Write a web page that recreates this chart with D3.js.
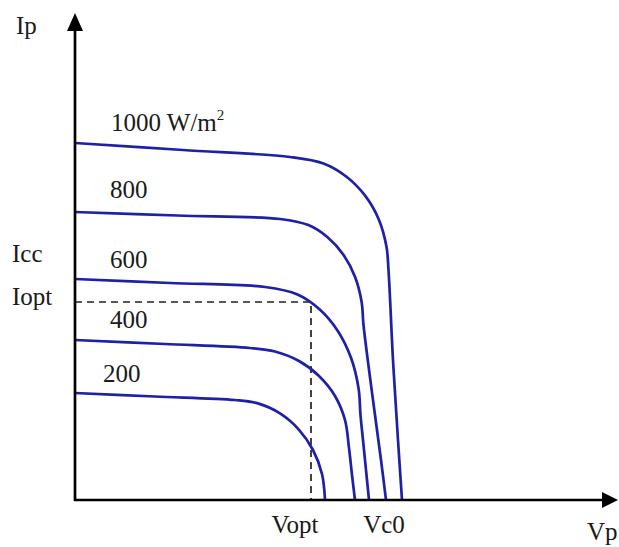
<!DOCTYPE html>
<html>
<head>
<meta charset="utf-8">
<script src="https://cdn.jsdelivr.net/npm/d3@7"></script>
<style>
  html, body { margin: 0; padding: 0; background: #fff; }
  svg { display: block; }
  text { font-family: "Liberation Serif", "Times New Roman", serif; fill: #1a1a1a; }
</style>
</head>
<body>
<svg id="chart" width="619" height="547"></svg>
<script>
// ---- data (arbitrary V / I units) ----
const irradianceLabels = ["1000", "800", "600", "400", "200"];

const v1000 = [0, 10.8, 21.5, 24.85, 27.12, 29.01, 30.38, 31.15, 31.35, 31.8, 32.3, 32.7];
const i1000 = [35.7, 35.0, 34.3, 33.65, 32.35, 30.44, 28.06, 25.32, 23.0, 14.0, 6.0, 0];

const v800 = [0, 10.25, 20.5, 23.34, 25.26, 26.86, 28.02, 28.67, 28.85, 29.8, 30.6, 31.1];
const i800 = [28.8, 28.45, 28.1, 27.49, 26.27, 24.49, 22.27, 19.75, 17.5, 10.0, 4.0, 0];

const v600 = [0, 9.5, 19.0, 22.25, 24.45, 26.28, 27.61, 28.36, 28.55, 28.85, 29.4];
const i600 = [22.1, 21.7, 21.3, 20.56, 19.08, 16.91, 14.2, 11.14, 8.5, 5.5, 0];

const v400 = [0, 9.0, 17.5, 20.0, 22.4, 24.4, 26.0, 27.0, 27.4, 27.7, 28.0];
const i400 = [16.0, 15.6, 15.2, 14.85, 13.9, 12.4, 10.4, 8.0, 5.2, 2.5, 0];

const v200 = [0, 8.0, 16.0, 18.3, 20.5, 22.36, 23.8, 24.7, 25.0];
const i200 = [10.7, 10.35, 10.0, 9.66, 8.66, 7.07, 5.0, 2.6, 0];

const vOpt = 23.6;
const iOpt = 19.8;

const axisMaxV = 54.3;
const axisMaxI = 48.7;

// ---- drawing ----
const svg = d3.select("#chart");
const x = d3.scaleLinear().domain([0, axisMaxV]).range([75, 618]);
const y = d3.scaleLinear().domain([0, axisMaxI]).range([500, 13]);

const blue = "#1f1fa8";
const series = [
  { v: v1000, i: i1000 },
  { v: v800, i: i800 },
  { v: v600, i: i600 },
  { v: v400, i: i400 },
  { v: v200, i: i200 }
];

const line = d3.line()
  .x(d => x(d[0]))
  .y(d => y(d[1]))
  .curve(d3.curveCatmullRom.alpha(0.5));

// dashed optimum lines
svg.append("path")
  .attr("d", `M${x(0)},${y(iOpt)}H${x(vOpt)}V${y(0)}`)
  .attr("fill", "none")
  .attr("stroke", "#222")
  .attr("stroke-width", 1.7)
  .attr("stroke-dasharray", "7,5");

// curves
series.forEach(s => {
  svg.append("path")
    .datum(s.v.map((v, k) => [v, s.i[k]]))
    .attr("d", line)
    .attr("fill", "none")
    .attr("stroke", blue)
    .attr("stroke-width", 2.7)
    .attr("stroke-linejoin", "round");
});

// axes with arrows
const axisG = svg.append("g");
axisG.append("line")
  .attr("x1", x(0)).attr("y1", y(0) + 1)
  .attr("x2", x(0)).attr("y2", y(axisMaxI) + 14)
  .attr("stroke", "#000").attr("stroke-width", 2.7);
axisG.append("line")
  .attr("x1", x(0) - 1).attr("y1", y(0))
  .attr("x2", x(axisMaxV) - 12).attr("y2", y(0))
  .attr("stroke", "#000").attr("stroke-width", 2.7);
axisG.append("path")
  .attr("d", `M${x(0)},${y(axisMaxI)}L${x(0) - 8},${y(axisMaxI) + 18}L${x(0) + 8},${y(axisMaxI) + 18}Z`)
  .attr("fill", "#000");
axisG.append("path")
  .attr("d", `M${x(axisMaxV)},${y(0)}L${x(axisMaxV) - 16},${y(0) - 8}L${x(axisMaxV) - 16},${y(0) + 8}Z`)
  .attr("fill", "#000");

// texts
const fs = 25;
function label(txt, px, py, anchor) {
  return svg.append("text")
    .attr("x", px).attr("y", py)
    .attr("font-size", fs)
    .attr("text-anchor", anchor || "start")
    .text(txt);
}
label("Ip", 16, 34);
label("Icc", 12, 262);
label("Iopt", 12, 305);

const t1000 = svg.append("text").attr("x", 111).attr("y", 131).attr("font-size", fs);
t1000.append("tspan").text(irradianceLabels[0] + " W/m");
t1000.append("tspan").attr("font-size", 15).attr("dy", -11).text("2");

label(irradianceLabels[1], 110, 198);
label(irradianceLabels[2], 110, 268);
label(irradianceLabels[3], 110, 328);
label(irradianceLabels[4], 103, 382);

label("Vopt", 295, 533, "middle");
label("Vc0", 384, 533, "middle");
label("Vp", 587, 540);
</script>
</body>
</html>
